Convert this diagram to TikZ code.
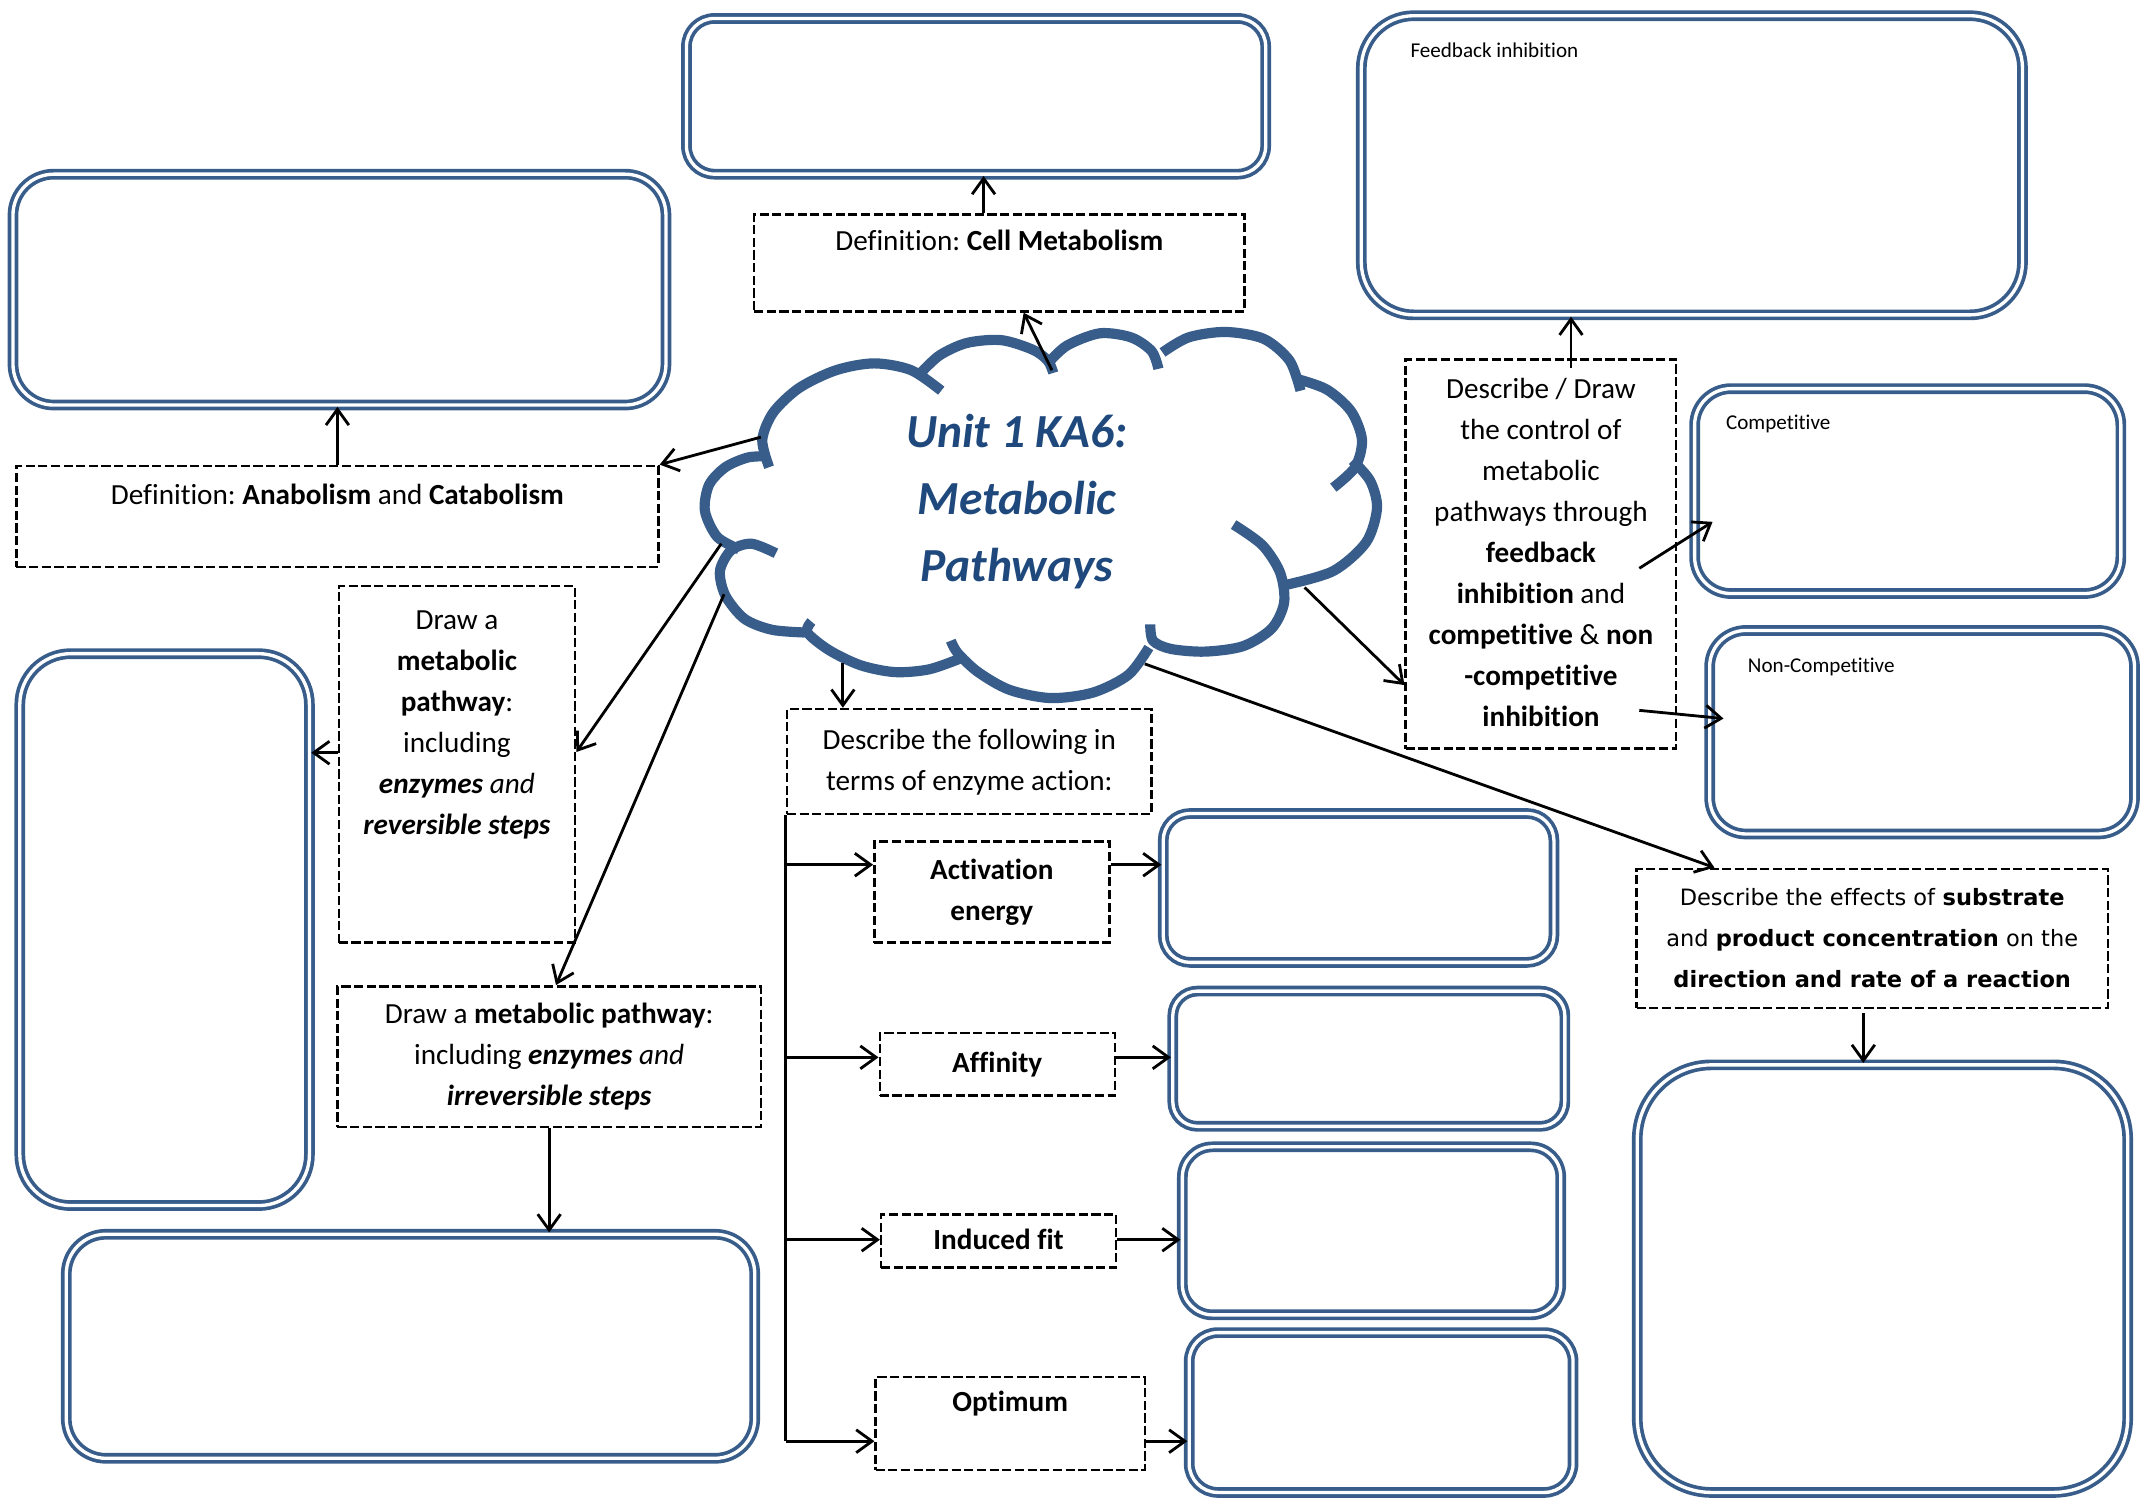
\documentclass[tikz,border=0pt]{standalone}
\usepackage{fontspec}
\setmainfont{Carlito}[Ligatures={NoCommon, NoRare}]
\newfontfamily\verdfont{DejaVu Sans}[Ligatures={NoCommon, NoRare}]
\usetikzlibrary{arrows.meta}
\definecolor{boxBlue}{RGB}{56, 93, 138}
\definecolor{titleBlue}{RGB}{31, 73, 125}
\newcommand{\boxu}{0.01366cm}
\newcommand{\qsize}{\fontsize{8.3}{11.66}\selectfont}
\frenchspacing

\tikzset{
  ansbox/.style={draw=boxBlue, double=white, line width=1.05pt, double distance=0.95pt, inner sep=0pt},
  qbox/.style={draw, dash pattern=on 2.6pt off 1pt, line width=0.7pt, align=center, inner sep=0pt, font=\qsize},
  link/.style={-{Straight Barb[length=4.5pt, width=6.5pt]}, line width=0.8pt},
  tag/.style={anchor=west, inner sep=0pt, font=\fontsize{6}{7}\selectfont},
  cloudline/.style={draw=boxBlue, line width=2.9pt}
}

\begin{document}
\begin{tikzpicture}[x=\boxu, y=-\boxu]
  \useasboundingbox (0,0) rectangle (1568,1097);

  % Answer boxes
  \foreach \n/\xa/\ya/\xb/\yb in {cell-ans/499/10/930/131, ana-ans/6/124/491/300,
      fb-ans/993/8/1484/234, comp-ans/1237/281/1556/438, ncomp-ans/1248/458/1566/614,
      rev-ans/11/475/230/886, irr-ans/45/900/556/1071, act-ans/848/592/1141/708,
      aff-ans/855/722/1149/828, ind-ans/862/836/1146/966, opt-ans/867/972/1155/1096,
      sub-ans/1195/776/1561/1096} {
    \pgfmathsetmacro{\rr}{0.17*min(\xb-\xa,\yb-\ya)}
    \node[ansbox, minimum width=(\xb-\xa-7)*\boxu, minimum height=(\yb-\ya-7)*\boxu,
      rounded corners=\rr*\boxu] (\n) at ({(\xa+\xb)/2},{(\ya+\yb)/2}) {};
  }
  \node[tag] (fb-tag) at (1032,37) {Feedback inhibition};
  \node[tag] (comp-tag) at (1263,310) {Competitive};
  \node[tag] (ncomp-tag) at (1279,488) {Non-Competitive};

  % Cloud
  \draw[cloudline] plot[smooth] coordinates {(541,402) (525,393) (516,374) (519,355) (531,342) (547,335) (560,334)};
  \draw[cloudline] plot[smooth] coordinates {(563,342) (558,322) (566,302) (585,284) (612,271) (640,266) (667,271) (689,286)};
  \draw[cloudline] plot[smooth] coordinates {(674,273) (688,260) (708,251) (733,249) (756,256) (767,264) (771,273)};
  \draw[cloudline] plot[smooth] coordinates {(767,266) (781,253) (805,244) (828,247) (843,257) (848,270)};
  \draw[cloudline] plot[smooth] coordinates {(851,258) (870,247) (897,243) (925,248) (944,264) (952,286)};
  \draw[cloudline] plot[smooth] coordinates {(948,277) (971,285) (989,301) (997,322) (992,342) (976,357)};
  \draw[cloudline] plot[smooth] coordinates {(990,337) (1003,352) (1008,372) (1000,397) (976,418) (942,428)};
  \draw[cloudline] plot[smooth] coordinates {(903,384) (924,399) (937,419) (940,441) (931,460) (910,473) (882,477) (857,475) (844,469) (842,457)};
  \draw[cloudline] plot[smooth] coordinates {(841,474) (826,494) (800,507) (769,511) (739,505) (716,492) (701,478) (696,469)};
  \draw[cloudline] plot[smooth] coordinates {(703,482) (680,490) (655,492) (630,487) (607,476) (591,463) (594,455)};
  \draw[cloudline] plot[smooth] coordinates {(589,463) (565,461) (545,453) (531,436) (527,418) (535,403) (550,398) (568,405)};

  \node[font=\fontsize{13.5}{19.06}\selectfont\bfseries\itshape, text=titleBlue, align=center]
    (title) at (744.5,367) {\strut Unit 1 KA6:\\Metabolic\\Pathways\strut};

  % Question boxes
  \node[qbox, minimum width=359*\boxu, minimum height=71*\boxu] (celldef) at (731.5,192.5)
    {\strut Definition: \textbf{Cell Metabolism}\\\strut};
  \node[qbox, minimum width=470*\boxu, minimum height=74*\boxu] (anadef) at (247,378)
    {\strut Definition: \textbf{Anabolism} and \textbf{Catabolism}\\\strut};
  \node[qbox, minimum width=173*\boxu, minimum height=261*\boxu] (revdef) at (334.5,559.5)
    {\strut Draw a\\\textbf{metabolic}\\\textbf{pathway}:\\including\\\textbf{\textit{enzymes}} \textit{and}\\\textbf{\textit{reversible steps}}\\ \\\strut};
  \node[qbox, minimum width=310*\boxu, minimum height=103*\boxu] (irrdef) at (402,773.5)
    {\strut Draw a \textbf{metabolic pathway}:\\including \textbf{\textit{enzymes}} \textit{and}\\\textbf{\textit{irreversible steps}}\strut};
  \node[qbox, minimum width=198*\boxu, minimum height=285*\boxu] (ctrldef) at (1128,405.5)
    {\strut Describe / Draw\\the control of\\metabolic\\pathways through\\\textbf{feedback}\\\textbf{inhibition} and\\\textbf{competitive} \& \textbf{non}\\\textbf{-competitive}\\\textbf{inhibition}\strut};
  \node[qbox, minimum width=267*\boxu, minimum height=77*\boxu] (enzdef) at (709.5,557.5)
    {\strut Describe the following in\\terms of enzyme action:\strut};
  \node[qbox, minimum width=172*\boxu, minimum height=74*\boxu] (act) at (726,653)
    {\strut\textbf{Activation}\\\textbf{energy}\strut};
  \node[qbox, minimum width=172*\boxu, minimum height=46*\boxu] (aff) at (730,779)
    {\strut\textbf{Affinity}};
  \node[qbox, minimum width=172*\boxu, minimum height=39*\boxu] (ind) at (731,908.5)
    {\strut\textbf{Induced fit}};
  \node[qbox, minimum width=197*\boxu, minimum height=68*\boxu] (opt) at (739.5,1042)
    {\strut\textbf{Optimum}\\\strut};
  \node[qbox, minimum width=345*\boxu, minimum height=102*\boxu, font=\verdfont\fontsize{6.4}{11.66}\selectfont]
    (subdef) at (1370.5,687)
    {\strut Describe the effects of \textbf{substrate}\\and \textbf{product concentration} on the\\\textbf{direction and rate of a reaction}\strut};

  % Where the links leave the cloud
  \coordinate (c-cell) at (770,271);
  \coordinate (c-ana) at (557,320);
  \coordinate (c-rev) at (528,398);
  \coordinate (c-irr) at (530,435);
  \coordinate (c-enz) at (617,485);
  \coordinate (c-ctrl) at (955,430);
  \coordinate (c-sub) at (838,486);

  \draw[link] (c-cell) -- (celldef);
  \draw[link] (c-ana) -- (anadef.north east);
  \draw[link] (c-rev) -- ([yshift=9*\boxu]revdef.east);
  \draw[link] (c-irr) -- ([xshift=5*\boxu]irrdef.north);
  \draw[link] (c-enz) -- (c-enz |- enzdef.north);
  \draw[link] (c-ctrl) -- ([yshift=-96*\boxu]ctrldef.west);
  \draw[link] (c-sub) -- ([xshift=-115.5*\boxu]subdef.north);

  % Links to the answer boxes
  \coordinate (cell-up) at ([xshift=-11.5*\boxu]celldef.north);
  \draw[link] (cell-up) -- (cell-up |- cell-ans.south);
  \draw[link] (anadef.north) -- (anadef.north |- ana-ans.south);
  \coordinate (rev-out) at ([yshift=8.5*\boxu]revdef.west);
  \draw[link] (rev-out) -- (rev-out -| rev-ans.east);
  \draw[link] (irrdef.south) -- (irrdef.south |- irr-ans.north);

  \coordinate (fb-up) at ([xshift=22*\boxu, yshift=-7*\boxu]ctrldef.north);
  \draw[link] (fb-up) -- (fb-up |- fb-ans.south);
  \draw[link] ([xshift=72*\boxu, yshift=-10.5*\boxu]ctrldef.center) -- ([xshift=14.5*\boxu, yshift=-22.5*\boxu]comp-ans.west);
  \draw[link] ([xshift=72*\boxu, yshift=-114.5*\boxu]ctrldef.center) -- ([xshift=11.5*\boxu, yshift=10*\boxu]ncomp-ans.west);

  \coordinate (sub-down) at ([xshift=-6.5*\boxu, yshift=-3*\boxu]subdef.south);
  \draw[link] (sub-down) -- (sub-down |- sub-ans.north);

  % Enzyme action branches
  \foreach \n/\dy in {act/20, aff/5, ind/1, opt/-13} {
    \coordinate (\n-in) at ([yshift=\dy*\boxu]\n.west);
    \draw[link] (\n-in -| enzdef.west) -- (\n-in);
    \draw[link] (\n-in -| \n.east) -- (\n-in -| \n-ans.west);
  }
  \draw[line width=0.8pt] (enzdef.south west) -- (enzdef.west |- opt-in);
\end{tikzpicture}
\end{document}
